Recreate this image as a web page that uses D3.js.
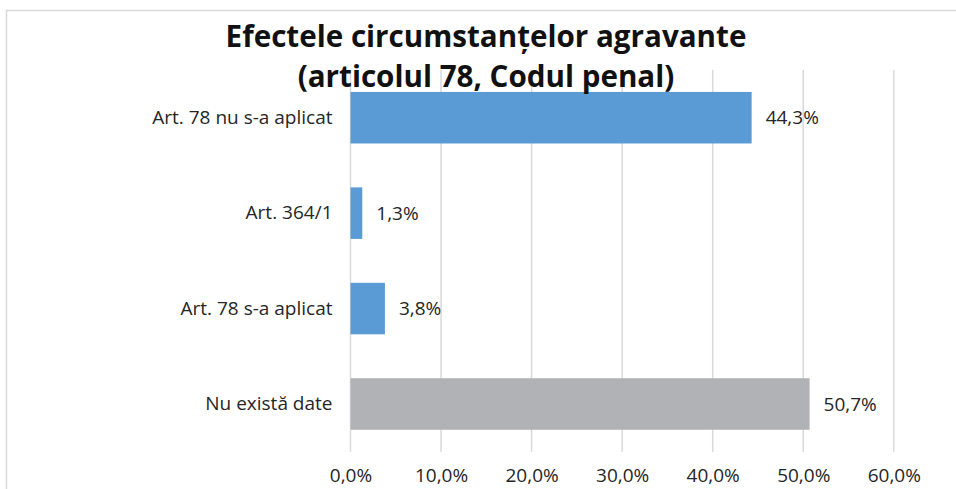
<!DOCTYPE html>
<html>
<head>
<meta charset="utf-8">
<script src="https://cdn.jsdelivr.net/npm/d3@7"></script>
<style>
  html, body { margin: 0; padding: 0; background: #fff; }
  svg { display: block; }
  text { font-family: "Open Sans", "Noto Sans", sans-serif; }
</style>
</head>
<body>
<svg id="chart" width="956" height="489"></svg>
<script>
const titleLines = ["Efectele circumstanțelor agravante", "(articolul 78, Codul penal)"];
const categories = ["Art. 78 nu s-a aplicat", "Art. 364/1", "Art. 78 s-a aplicat", "Nu există date"];
const values = [44.3, 1.3, 3.8, 50.7];
const barColors = ["#5B9BD5", "#5B9BD5", "#5B9BD5", "#B1B2B5"];
const tickValues = [0, 10, 20, 30, 40, 50, 60];

const svg = d3.select("#chart");
const fmt = v => d3.format(".1f")(v).replace(".", ",") + "%";
const FS = 19;

// chart border
svg.append("rect")
  .attr("x", 6.5).attr("y", 10.5)
  .attr("width", 960).attr("height", 500)
  .attr("fill", "none").attr("stroke", "#D9D9D9").attr("stroke-width", 1.5);

const margin = { left: 350.5, right: 956 - 893.8, top: 70, bottom: 489 - 451.7 };
const x = d3.scaleLinear().domain([0, 60]).range([margin.left, 956 - margin.right]);
const y = d3.scaleBand().domain(categories).range([margin.top, 489 - margin.bottom])
  .paddingInner(0.46).paddingOuter(0.23);

// grid
svg.append("g").selectAll("line").data(tickValues).join("line")
  .attr("x1", d => x(d)).attr("x2", d => x(d))
  .attr("y1", margin.top).attr("y2", 489 - margin.bottom)
  .attr("stroke", "#D9D9D9").attr("stroke-width", 1.5);

// bars
svg.append("g").selectAll("rect").data(categories).join("rect")
  .attr("x", x(0))
  .attr("y", d => y(d))
  .attr("width", (d, i) => x(values[i]) - x(0))
  .attr("height", y.bandwidth())
  .attr("fill", (d, i) => barColors[i]);

// data labels
svg.append("g").selectAll("text").data(categories).join("text")
  .attr("x", (d, i) => x(values[i]) + 14)
  .attr("y", d => y(d) + y.bandwidth() / 2)
  .attr("dy", "0.35em")
  .attr("font-size", FS)
  .attr("fill", "#262626")
  .text((d, i) => fmt(values[i]));

// y axis labels
const yAxis = d3.axisLeft(y).tickSize(0).tickPadding(18);
const gy = svg.append("g").attr("transform", `translate(${x(0)},0)`).call(yAxis);
gy.select(".domain").remove();
gy.selectAll("text").attr("font-size", FS).attr("fill", "#262626")
  .style("font-family", '"Open Sans", "Noto Sans", sans-serif');

// x axis labels
const xAxis = d3.axisBottom(x).tickValues(tickValues).tickSize(0).tickPadding(17)
  .tickFormat(d => fmt(d));
const gx = svg.append("g").attr("transform", `translate(0,${489 - margin.bottom})`).call(xAxis);
gx.select(".domain").remove();
gx.selectAll("text").attr("font-size", FS).attr("fill", "#262626")
  .style("font-family", '"Open Sans", "Noto Sans", sans-serif');

// title
const title = svg.append("text").attr("text-anchor", "middle")
  .attr("font-weight", "bold").attr("font-size", 29.6).attr("fill", "#111");
title.selectAll("tspan").data(titleLines).join("tspan")
  .attr("x", 486).attr("y", (d, i) => 47 + i * 40)
  .text(d => d);
</script>
</body>
</html>
